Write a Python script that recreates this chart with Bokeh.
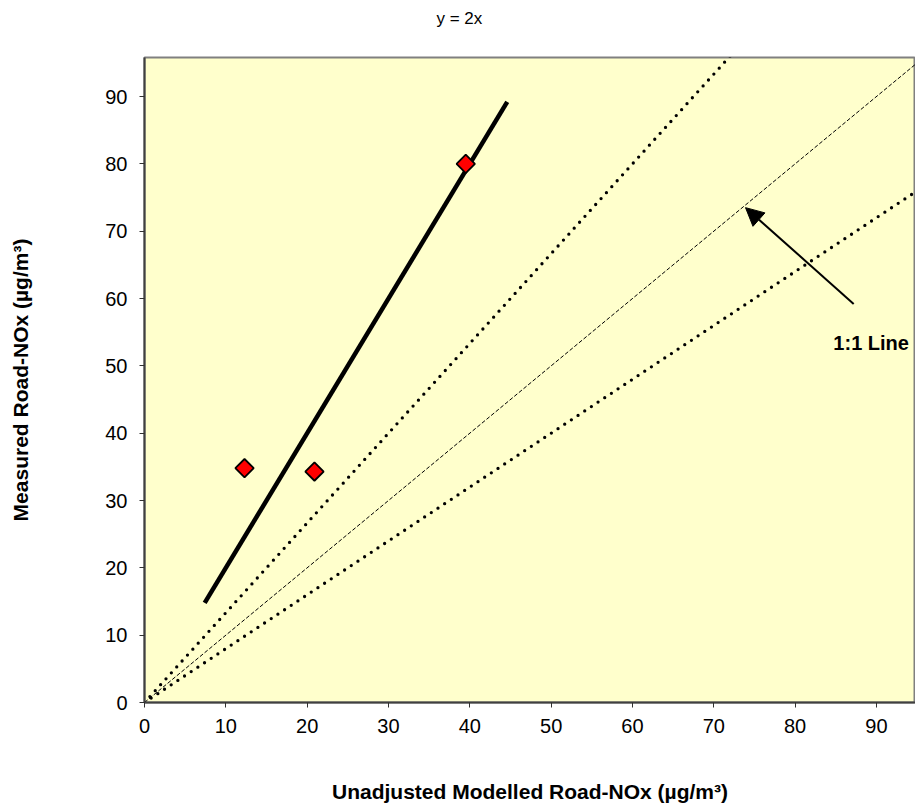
import math
from bokeh.plotting import figure
from bokeh.models import Range1d, Label, Arrow, NormalHead, FixedTicker, Title
from bokeh.embed import file_html
from bokeh.resources import INLINE

# ---- data ----
modelled = [12.3, 20.9, 39.5]
measured = [34.8, 34.3, 80.0]

fit_x = [7.4, 44.6]
fit_y = [14.8, 89.2]

one_to_one_x = [0, 100]
one_to_one_y = [0, 100]

upper_x = [0, 75]
upper_y = [0, 100]

lower_x = [0, 100]
lower_y = [0, 80]

ticks = [0, 10, 20, 30, 40, 50, 60, 70, 80, 90]

title_text = "y = 2x"
x_title = "Unadjusted Modelled Road-NOx (µg/m³)"
y_title = "Measured Road-NOx (µg/m³)"
note_text = "1:1 Line"
arrow_tail = (87.2, 59.2)
arrow_tip = (73.9, 73.5)
note_pos = (84.7, 53.4)

FONT = "Liberation Sans"

p = figure(width=915, height=807, output_backend="svg", toolbar_location=None,
           x_range=Range1d(0, 94.8), y_range=Range1d(0, 95.8),
           min_border_left=144, min_border_right=0, min_border_top=57,
           min_border_bottom=105)

p.border_fill_color = "white"
p.background_fill_color = "#FFFFCC"
p.outline_line_color = "#808080"
p.outline_line_width = 2
p.xgrid.visible = False
p.ygrid.visible = False

for ax in (p.xaxis[0], p.yaxis[0]):
    ax.ticker = FixedTicker(ticks=ticks)
    ax.minor_tick_line_color = None
    ax.major_tick_out = 5
    ax.major_tick_in = 0
    ax.axis_line_color = "#404040"
    ax.axis_line_width = 2
    ax.major_tick_line_color = "#303030"
    ax.major_label_text_font = FONT
    ax.major_label_text_font_size = "20px"
    ax.major_label_text_color = "black"
    ax.axis_label_text_font = FONT
    ax.axis_label_text_font_style = "bold"
    ax.axis_label_text_font_size = "21px"
    ax.axis_label_text_color = "black"

p.xaxis.axis_label = x_title
p.yaxis.axis_label = y_title
p.xaxis.major_label_standoff = 11
p.yaxis.major_label_standoff = 12
p.xaxis.axis_label_standoff = 44
p.yaxis.axis_label_standoff = 70

# reference lines
p.line(one_to_one_x, one_to_one_y, line_color="black", line_width=1, line_dash="4 2")
p.line(upper_x, upper_y, line_color="black", line_width=3.3, line_dash="0 8", line_cap="round")
p.line(lower_x, lower_y, line_color="black", line_width=3.3, line_dash="0 8", line_cap="round")

# fit line
p.line(fit_x, fit_y, line_color="black", line_width=4.5)

# points
p.scatter(modelled, measured, marker="square", angle=math.pi / 4, size=13,
          fill_color="#FF0000", line_color="black", line_width=1.8)

# annotation
p.add_layout(Arrow(end=NormalHead(size=18, fill_color="black", line_color="black"),
                   x_start=arrow_tail[0], y_start=arrow_tail[1],
                   x_end=arrow_tip[0], y_end=arrow_tip[1],
                   line_color="black", line_width=2))
p.add_layout(Label(x=note_pos[0], y=note_pos[1], text=note_text,
                   text_font=FONT, text_font_style="bold", text_font_size="20px",
                   text_color="black",
                   text_baseline="middle", text_align="left"))

# title
p.add_layout(Title(text=title_text, align="left", offset=292, text_font=FONT,
                   text_font_size="17px", text_font_style="normal",
                   vertical_align="top", standoff=16, text_color="black",
                   padding=dict(left=0, right=0, top=0, bottom=20)), "above")

open("out.html", "w").write(file_html(p, INLINE))
